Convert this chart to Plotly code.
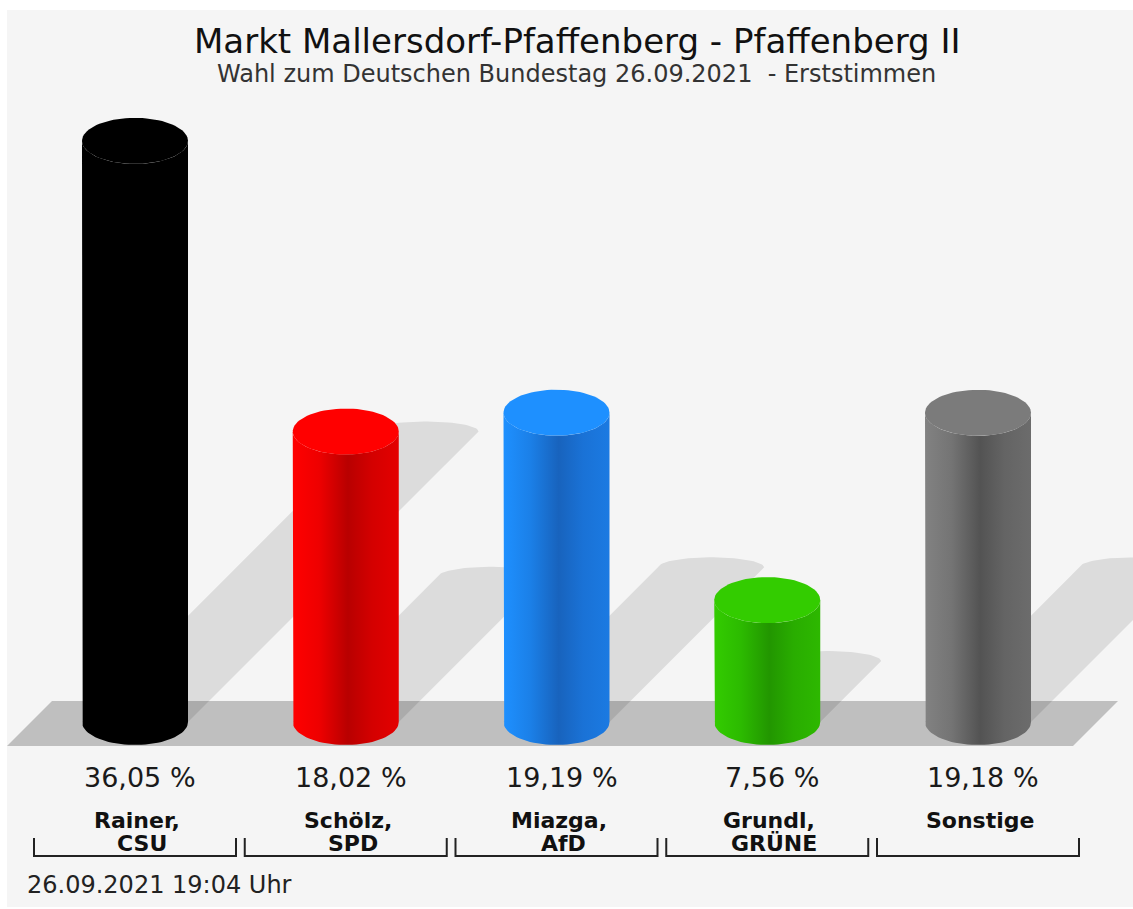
import numpy as np
import plotly.graph_objects as go

# --- data -------------------------------------------------------------
candidates = ["Rainer,", "Schölz,", "Miazga,", "Grundl,", "Sonstige"]
parties = ["CSU", "SPD", "AfD", "GRÜNE", ""]
shares = [36.05, 18.02, 19.19, 7.56, 19.18]
cap_colors = ["#000000", "#ff0000", "#1e90ff", "#33cc00", "#7b7b7b"]
body_scales = [
    [[0, "#000000"], [1, "#000000"]],
    [[0, "#ff0000"], [0.25, "#ee0000"], [0.52, "#b80000"], [0.75, "#d40000"], [1, "#e40000"]],
    [[0, "#1e90ff"], [0.25, "#1b80e8"], [0.52, "#1863bd"], [0.75, "#1a72d6"], [1, "#1b7ae2"]],
    [[0, "#33cc00"], [0.25, "#2cbb00"], [0.52, "#229600"], [0.75, "#29ad00"], [1, "#2db800"]],
    [[0, "#828282"], [0.25, "#747474"], [0.52, "#535353"], [0.75, "#646464"], [1, "#6c6c6c"]],
]

title = "Markt Mallersdorf-Pfaffenberg - Pfaffenberg II"
subtitle = "Wahl zum Deutschen Bundestag 26.09.2021  - Erststimmen"
footer = "26.09.2021 19:04 Uhr"

# --- geometry (page pixels) -------------------------------------------
W, H = 1133, 909
PXX = 210.75        # px per category
PXY = 16.12         # px per percent
BASE_Y = 722        # page y of value 0
X0_PAGE = 135       # page x of first bar centre
HALF_W = 53 / PXX   # cylinder radius in category units
ELL_B = 23 / PXY    # ellipse half-height in % units
SH_K = 0.5          # shadow length ratio
SH_B = 10 / PXY

x0 = -X0_PAGE / PXX
x1 = x0 + W / PXX
y1 = BASE_Y / PXY
y0 = y1 - H / PXY


def px(x):
    return x / W


def py(y):
    return 1 - y / H


FONT = "DejaVu Sans"
fig = go.Figure()

# shadows
for i, v in enumerate(shares):
    h = SH_K * v
    s = h * PXY / PXX
    t = np.linspace(np.pi, 0, 40)
    xs = [i - HALF_W, i - HALF_W + s] + list(i + s + HALF_W * np.cos(t)) + [i + HALF_W + s, i + HALF_W]
    ys = [0, h] + list(h + SH_B * np.sin(t)) + [h, 0]
    fig.add_trace(go.Scatter(
        x=xs, y=ys, fill="toself", mode="lines",
        line=dict(width=0, color="rgba(0,0,0,0)"),
        fillcolor="rgba(0,0,0,0.1)", hoverinfo="skip", showlegend=False,
    ))

# cylinders
for i, v in enumerate(shares):
    tb = np.linspace(np.pi, 2 * np.pi, 40)
    tt = np.linspace(2 * np.pi, np.pi, 40)
    xs = [i - HALF_W] + list(i + HALF_W * np.cos(tb)) + list(i + HALF_W * np.cos(tt))
    ys = [v] + list(ELL_B * np.sin(tb)) + list(v + ELL_B * np.sin(tt))
    fig.add_trace(go.Scatter(
        x=xs, y=ys, fill="toself", mode="lines",
        line=dict(width=0, color="rgba(0,0,0,0)"),
        fillgradient=dict(type="horizontal", colorscale=body_scales[i]),
        hoverinfo="skip", showlegend=False,
    ))
    tc = np.linspace(0, 2 * np.pi, 80)
    fig.add_trace(go.Scatter(
        x=list(i + HALF_W * np.cos(tc)), y=list(v + ELL_B * np.sin(tc)),
        fill="toself", mode="lines",
        line=dict(width=0, color="rgba(0,0,0,0)"),
        fillcolor=cap_colors[i], hoverinfo="skip", showlegend=False,
    ))

shapes = [
    # grey panel
    dict(type="rect", xref="paper", yref="paper", x0=px(7), x1=1, y0=py(907), y1=py(10),
         fillcolor="#f5f5f5", line_width=0, layer="below"),
    # floor
    dict(type="path", xref="paper", yref="paper", layer="below",
         path=f"M {px(7)} {py(746)} L {px(1073)} {py(746)} L {px(1118)} {py(701)} "
              f"L {px(52)} {py(701)} Z",
         fillcolor="#bfbfbf", line_width=0),
]
annotations = [
    dict(text=title, x=px(577), y=py(41), xref="paper", yref="paper", showarrow=False,
         yanchor="middle", font=dict(family=FONT, size=34, color="#111111")),
    dict(text=subtitle, x=px(577), y=py(73.5), xref="paper", yref="paper", showarrow=False,
         yanchor="middle", font=dict(family=FONT, size=24, color="#333333")),
    dict(text=footer, x=px(25), y=py(885), xref="paper", yref="paper", showarrow=False,
         xanchor="left", yanchor="middle", font=dict(family=FONT, size=24, color="#222222")),
]
for i, (v, c, p) in enumerate(zip(shares, candidates, parties)):
    label = f"{v:.2f}".replace(".", ",") + " %"
    annotations.append(dict(text=label, x=i, xshift=5, y=py(777.5), xref="x", yref="paper",
                            showarrow=False, yanchor="middle",
                            font=dict(family=FONT, size=27, color="#1a1a1a")))
    annotations.append(dict(text=f"<b>{c}</b>", x=i, xshift=2, y=py(820), xref="x", yref="paper",
                            showarrow=False, yanchor="middle",
                            font=dict(family=FONT, size=22, color="#111111")))
    if p:
        annotations.append(dict(text=f"<b>{p}</b>", x=i, xshift=7, y=py(843.5), xref="x",
                                yref="paper", showarrow=False, yanchor="middle",
                                font=dict(family=FONT, size=22, color="#111111")))
    hb = 101 / PXX
    shapes.append(dict(type="path", xref="x", yref="paper",
                       path=f"M {i - hb} {py(838)} L {i - hb} {py(856)} L {i + hb} {py(856)} "
                            f"L {i + hb} {py(838)}",
                       line=dict(color="#222222", width=2)))

fig.update_layout(
    width=W, height=H,
    margin=dict(l=0, r=0, t=0, b=0),
    paper_bgcolor="white", plot_bgcolor="rgba(0,0,0,0)",
    xaxis=dict(range=[x0, x1], visible=False, fixedrange=True),
    yaxis=dict(range=[y0, y1], visible=False, fixedrange=True),
    shapes=shapes, annotations=annotations,
    showlegend=False,
)

# drop the browser's default body margin so the figure fills the window
fig.write_html("out.html", config={"displayModeBar": False},
               post_script="document.body.style.margin='0';")
